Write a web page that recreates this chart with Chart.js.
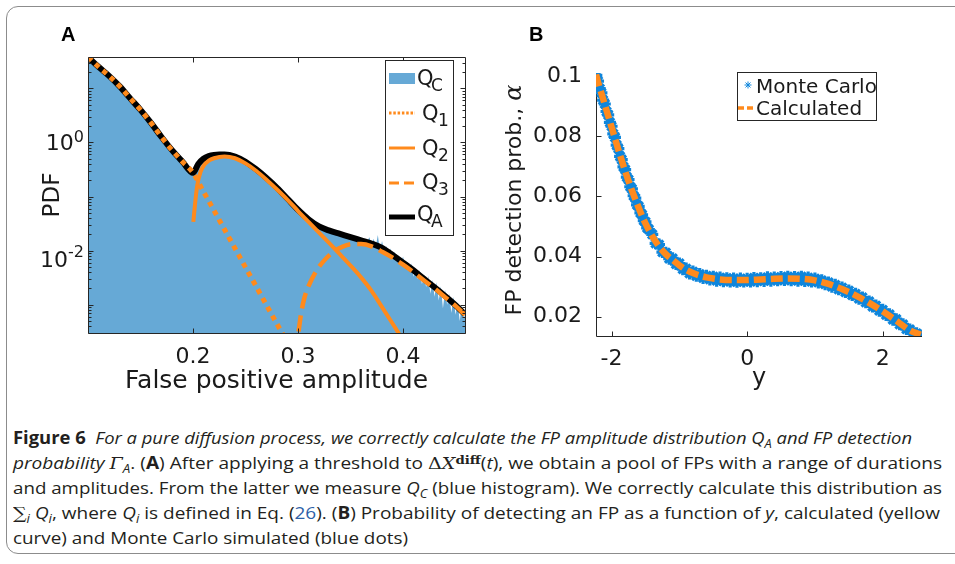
<!DOCTYPE html>
<html>
<head>
<meta charset="utf-8">
<script src="https://cdn.jsdelivr.net/npm/chart.js@4.4.1/dist/chart.umd.min.js"></script>
<style>
  html, body { margin: 0; padding: 0; background: #fff; }
  body { width: 955px; height: 564px; position: relative; overflow: hidden; }
  #frame { position: absolute; left: 6px; top: 6px; width: 1000px; height: 548px; border: 1.5px solid #8c8c8c; border-radius: 12px; box-sizing: border-box; }
  canvas { position: absolute; top: 0; }
  #chartA { left: 0; }
  #chartB { left: 480px; }
  .tag { position: absolute; top: 24px; font: bold 20px "Liberation Sans", Arial, sans-serif; line-height: 20px; color: #000; }
  .cap { position: absolute; left: 13px; white-space: nowrap; font: 17px "Open Sans", sans-serif; line-height: 17px; color: #231f20; transform-origin: 0 0; }
  .cap .sb { font-size: 70%; position: relative; top: 0.3em; }
  .cap .sp { font-size: 70%; position: relative; top: -0.45em; font-family: "DejaVu Serif", serif; font-weight: bold; }
  .cap .m { font-family: "DejaVu Serif", serif; }
  .cap .link { color: #2d5fa8; }
</style>
</head>
<body>
<div id="frame"></div>
<canvas id="chartA" width="480" height="400"></canvas>
<canvas id="chartB" width="475" height="400"></canvas>
<div class="tag" style="left:61px">A</div>
<div class="tag" style="left:529px">B</div>

<div class="cap" style="top:429px"><b>Figure 6</b>&nbsp; <i>For a pure diffusion process, we correctly calculate the FP amplitude distribution Q<span class="sb">A</span> and FP detection</i></div>
<div class="cap" style="top:454px"><i>probability <span class="m">Γ</span><span class="sb">A</span></i>. (<b>A</b>) After applying a threshold to <span class="m">Δ<i>X</i></span><span class="sp">diff</span>(<i>t</i>), we obtain a pool of FPs with a range of durations</div>
<div class="cap" style="top:479px">and amplitudes. From the latter we measure <i>Q<span class="sb">C</span></i> (blue histogram). We correctly calculate this distribution as</div>
<div class="cap" style="top:504px"><span class="m">∑</span><span class="sb"><i>i</i></span> <i>Q<span class="sb">i</span></i>, where <i>Q<span class="sb">i</span></i> is defined in Eq. (<span class="link">26</span>). (<b>B</b>) Probability of detecting an FP as a function of <i>y</i>, calculated (yellow</div>
<div class="cap" style="top:529px">curve) and Monte Carlo simulated (blue dots)</div>

<script>
// ---- panel A: amplitude distributions (log y) ----
const qaX = [0.100, 0.110, 0.120, 0.130, 0.140, 0.150, 0.160, 0.170, 0.180, 0.190, 0.200, 0.205, 0.210, 0.215, 0.220, 0.225, 0.230, 0.240, 0.250, 0.260, 0.270, 0.280, 0.290, 0.300, 0.310, 0.320, 0.330, 0.340, 0.350, 0.360, 0.370, 0.380, 0.390, 0.400, 0.410, 0.420, 0.430, 0.440, 0.450, 0.459];
const qaY = [38, 25, 17, 11, 6.6, 4.0, 2.3, 1.26, 0.72, 0.44, 0.275, 0.40, 0.50, 0.56, 0.59, 0.60, 0.60, 0.55, 0.44, 0.32, 0.22, 0.145, 0.091, 0.057, 0.038, 0.028, 0.0234, 0.0204, 0.0178, 0.0155, 0.0135, 0.0112, 0.0083, 0.0060, 0.0043, 0.0030, 0.0021, 0.00145, 0.00098, 0.00066];

const q1X = [0.100, 0.110, 0.120, 0.130, 0.140, 0.150, 0.160, 0.170, 0.180, 0.190, 0.200, 0.210, 0.220, 0.230, 0.240, 0.250, 0.260, 0.270, 0.280, 0.290];
const q1Y = [38, 25, 17, 11, 6.6, 4.0, 2.3, 1.26, 0.72, 0.44, 0.275, 0.123, 0.055, 0.0245, 0.011, 0.0049, 0.0022, 0.00098, 0.00044, 0.0002];

const q2X = [0.2003, 0.202, 0.204, 0.207, 0.210, 0.215, 0.220, 0.230, 0.240, 0.250, 0.260, 0.270, 0.280, 0.290, 0.300, 0.310, 0.320, 0.330, 0.340, 0.350, 0.360, 0.370, 0.380, 0.390, 0.400];
const q2Y = [0.034, 0.075, 0.16, 0.28, 0.37, 0.46, 0.51, 0.55, 0.51, 0.41, 0.30, 0.205, 0.135, 0.087, 0.054, 0.034, 0.0215, 0.0136, 0.0085, 0.0053, 0.0032, 0.0018, 0.0009, 0.00045, 0.00022];

const q3X = [0.3005, 0.303, 0.306, 0.310, 0.317, 0.325, 0.333, 0.342, 0.352, 0.360, 0.370, 0.381, 0.390, 0.400, 0.410, 0.420, 0.430, 0.440, 0.450, 0.459];
const q3Y = [0.00032, 0.0007, 0.00132, 0.0022, 0.0041, 0.0066, 0.0093, 0.0117, 0.0132, 0.0132, 0.0120, 0.0093, 0.0074, 0.0055, 0.0040, 0.0028, 0.0020, 0.00138, 0.00095, 0.00065];

// histogram Q_C: smooth body, then noisy tail bins
const qcX = [0.100, 0.110, 0.120, 0.130, 0.140, 0.150, 0.160, 0.170, 0.180, 0.190, 0.200, 0.205, 0.210, 0.215, 0.220, 0.225, 0.230, 0.240, 0.250, 0.260, 0.270, 0.280, 0.290, 0.300, 0.310, 0.320, 0.330, 0.340, 0.350,
  0.352, 0.354, 0.356, 0.358, 0.360, 0.362, 0.364, 0.366, 0.368, 0.370, 0.372, 0.374, 0.376, 0.378, 0.380, 0.382, 0.384, 0.386, 0.388, 0.390, 0.392, 0.394, 0.396, 0.398, 0.400,
  0.402, 0.404, 0.406, 0.408, 0.410, 0.412, 0.414, 0.416, 0.418, 0.420, 0.422, 0.424, 0.426, 0.428, 0.430, 0.432, 0.434, 0.436, 0.438, 0.440, 0.442, 0.444, 0.446, 0.448, 0.450,
  0.452, 0.454, 0.456, 0.458, 0.460];
const qcY = [38, 25, 17, 11, 6.6, 4.0, 2.3, 1.26, 0.72, 0.44, 0.27, 0.39, 0.49, 0.55, 0.58, 0.59, 0.59, 0.54, 0.43, 0.315, 0.215, 0.142, 0.089, 0.056, 0.037, 0.0275, 0.023, 0.020, 0.0175,
  0.0172, 0.0170, 0.0163, 0.0168, 0.0151, 0.0158, 0.0140, 0.0150, 0.0176, 0.0128, 0.0165, 0.0118, 0.0195, 0.0102, 0.0150, 0.0098, 0.0122, 0.0085, 0.0110, 0.0072, 0.0095, 0.0064, 0.0082, 0.0055, 0.0078,
  0.0049, 0.0062, 0.0042, 0.0058, 0.0033, 0.0047, 0.0030, 0.0044, 0.0024, 0.0036, 0.0021, 0.0034, 0.0016, 0.0029, 0.0014, 0.0026, 0.0012, 0.0022, 0.00085, 0.0019, 0.0010, 0.0016, 0.00070, 0.0014, 0.00065,
  0.0011, 0.00050, 0.0010, 0.00055, 0.0008];

const xTicksA = [0.2, 0.3, 0.4];
const yLabelA = [1, 0.01];
const yLabelExpA = ['0', '-2'];
const legendSubA = ['C', '1', '2', '3', 'A'];

// ---- panel B: FP detection probability ----
const calcX = [-2.23, -2.2, -2.1, -2.0, -1.9, -1.8, -1.7, -1.6, -1.5, -1.4, -1.3, -1.2, -1.1, -1.0, -0.9, -0.8, -0.7, -0.6, -0.5, -0.4, -0.2, 0, 0.2, 0.4, 0.6, 0.8, 1.0, 1.2, 1.4, 1.6, 1.8, 2.0, 2.2, 2.4, 2.56];
const calcY = [0.1005, 0.0980, 0.0905, 0.0830, 0.0755, 0.0684, 0.0620, 0.0562, 0.0510, 0.0468, 0.0434, 0.0408, 0.0389, 0.0371, 0.0356, 0.0345, 0.0337, 0.0331, 0.0327, 0.0324, 0.0322, 0.0322, 0.0324, 0.0326, 0.0327, 0.0326, 0.0321, 0.0309, 0.0292, 0.0271, 0.0246, 0.0218, 0.0187, 0.0155, 0.0140];

const mcX = [-2.225, -2.2, -2.175, -2.15, -2.125, -2.1, -2.075, -2.05, -2.025, -2, -1.975, -1.95, -1.925, -1.9, -1.875, -1.85, -1.825, -1.8, -1.775, -1.75, -1.725, -1.7, -1.675, -1.65, -1.625, -1.6, -1.575, -1.55, -1.525, -1.5, -1.475, -1.45,
  -1.4, -1.35, -1.3, -1.25, -1.2, -1.15, -1.1, -1.05, -1, -0.95, -0.9, -0.85, -0.8, -0.75, -0.7, -0.65, -0.6, -0.55, -0.5, -0.45, -0.4, -0.35, -0.3, -0.25, -0.2, -0.15, -0.1, -0.05,
  0, 0.05, 0.1, 0.15, 0.2, 0.25, 0.3, 0.35, 0.4, 0.45, 0.5, 0.55, 0.6, 0.65, 0.7, 0.75, 0.8, 0.85, 0.9, 0.95,
  1, 1.05, 1.1, 1.15, 1.2, 1.25, 1.3, 1.35, 1.4, 1.45, 1.5, 1.55, 1.6, 1.65, 1.7, 1.75, 1.8, 1.85, 1.9, 1.95,
  2, 2.05, 2.1, 2.15, 2.2, 2.25, 2.3, 2.35, 2.4, 2.45, 2.5, 2.55, 2.57];
const mcY = [0.1002, 0.0983, 0.0958, 0.0944, 0.0920, 0.0907, 0.0882, 0.0871, 0.0846, 0.0833, 0.0808, 0.0796, 0.0770, 0.0759, 0.0733, 0.0722, 0.0698, 0.0689, 0.0664, 0.0656, 0.0632, 0.0625, 0.0602, 0.0594, 0.0572, 0.0567, 0.0545, 0.0539, 0.0519, 0.0515, 0.0495, 0.0490,
  0.0474, 0.0444, 0.0440, 0.0415, 0.0413, 0.0393, 0.0394, 0.0375, 0.0377, 0.0358, 0.0360, 0.0344, 0.0350, 0.0336, 0.0342, 0.0329, 0.0336, 0.0324, 0.0333, 0.0320, 0.0330, 0.0318, 0.0328, 0.0317, 0.0327, 0.0316, 0.0327, 0.0317,
  0.0326, 0.0317, 0.0329, 0.0318, 0.0328, 0.0319, 0.0331, 0.0320, 0.0330, 0.0321, 0.0332, 0.0322, 0.0333, 0.0321, 0.0332, 0.0320, 0.0333, 0.0319, 0.0330, 0.0317,
  0.0327, 0.0314, 0.0321, 0.0308, 0.0314, 0.0300, 0.0306, 0.0291, 0.0297, 0.0282, 0.0287, 0.0272, 0.0276, 0.0260, 0.0264, 0.0248, 0.0251, 0.0234, 0.0237, 0.0220,
  0.0223, 0.0206, 0.0208, 0.0190, 0.0192, 0.0175, 0.0175, 0.0159, 0.0158, 0.0145, 0.0145, 0.0137, 0.0137];

const xTicksB = [-2, 0, 2];
const yTicksB = [0.02, 0.04, 0.06, 0.08, 0.1];

const orange = '#ff8a1c';
const histBlue = '#66a9d6';
const mcBlue = '#0f86dc';
const ink = '#1a1a1a';
const axisCol = '#262626';
const sans = '"DejaVu Sans", sans-serif';

Chart.defaults.font.family = sans;

function pts(xs, ys) {
  return xs.map((x, i) => ({ x: x, y: ys[i] }));
}

// frame, inward ticks, y labels with exponents, legend for panel A
const decorA = {
  id: 'decorA',
  afterDatasetsDraw(chart) {
    const { ctx, chartArea: a, scales: { x, y } } = chart;
    ctx.save();
    ctx.strokeStyle = axisCol;
    ctx.lineWidth = 1;
    ctx.beginPath();
    const L = Math.round(a.left) + 0.5, R = Math.round(a.right) + 0.5;
    const T = Math.round(a.top) + 0.5, B = Math.round(a.bottom) + 0.5;
    ctx.rect(L, T, R - L, B - T);
    xTicksA.forEach(v => {
      const px = Math.round(x.getPixelForValue(v)) + 0.5;
      ctx.moveTo(px, B); ctx.lineTo(px, B - 5);
      ctx.moveTo(px, T); ctx.lineTo(px, T + 5);
    });
    for (let e = -4; e <= 1; e++) {
      for (let k = 1; k <= 9; k++) {
        const v = k * Math.pow(10, e);
        if (v < y.min || v > y.max) continue;
        const py = Math.round(y.getPixelForValue(v)) + 0.5;
        const len = k === 1 ? 5 : 3;
        ctx.moveTo(L, py); ctx.lineTo(L + len, py);
        ctx.moveTo(R, py); ctx.lineTo(R - len, py);
      }
    }
    ctx.stroke();

    // tick labels 10^e
    const shift = [[8, 0], [16, 6]];
    ctx.fillStyle = ink;
    ctx.textBaseline = 'alphabetic';
    yLabelA.forEach((v, i) => {
      const py = y.getPixelForValue(v);
      ctx.font = '16px ' + sans;
      ctx.textAlign = 'right';
      const ew = ctx.measureText(yLabelExpA[i]).width;
      ctx.fillText(yLabelExpA[i], 84, py + shift[i][1]);
      ctx.font = '22px ' + sans;
      ctx.fillText('10', 84 - ew, py + shift[i][0]);
    });
    ctx.restore();
  },
  afterDraw(chart) {
    const { ctx } = chart;
    ctx.save();
    ctx.fillStyle = '#fff';
    ctx.fillRect(385, 60, 68, 175);
    ctx.strokeStyle = axisCol;
    ctx.lineWidth = 1;
    ctx.strokeRect(385.5, 60.5, 68, 175);

    ctx.fillStyle = histBlue;
    ctx.fillRect(389, 73, 26, 11);

    const sample = (yy, color, width, dash) => {
      ctx.beginPath();
      ctx.strokeStyle = color;
      ctx.lineWidth = width;
      ctx.setLineDash(dash);
      ctx.moveTo(389, yy); ctx.lineTo(415, yy);
      ctx.stroke();
    };
    sample(113, orange, 3, [2.5, 1.8]);
    sample(148, orange, 3, []);
    sample(183, orange, 3, [10, 5]);
    sample(217, '#000', 5, []);
    ctx.setLineDash([]);

    const qx = [417, 422, 422, 422, 417];
    const sx = [431, 438, 438, 438, 431];
    const qb = [85, 120, 155, 189, 221];
    ctx.fillStyle = ink;
    ctx.textAlign = 'left';
    legendSubA.forEach((s, i) => {
      ctx.font = '21px ' + sans;
      ctx.fillText('Q', qx[i], qb[i]);
      ctx.font = '17px ' + sans;
      ctx.fillText(s, sx[i], qb[i] + 6);
    });
    ctx.restore();
  }
};

new Chart(document.getElementById('chartA'), {
  type: 'line',
  data: {
    datasets: [
      { label: 'Q_C', data: pts(qcX, qcY), fill: 'start', backgroundColor: histBlue, borderWidth: 0, borderColor: histBlue, pointRadius: 0, tension: 0, order: 5, clip: 0 },
      { label: 'Q_A', data: pts(qaX, qaY), borderColor: '#000', borderWidth: 6, pointRadius: 0, cubicInterpolationMode: 'monotone', order: 4 },
      { label: 'Q_2', data: pts(q2X, q2Y), borderColor: orange, borderWidth: 4, pointRadius: 0, cubicInterpolationMode: 'monotone', order: 3, clip: 0 },
      { label: 'Q_3', data: pts(q3X, q3Y), borderColor: orange, borderWidth: 4.5, borderDash: [16, 7], pointRadius: 0, cubicInterpolationMode: 'monotone', order: 2, clip: 0 },
      { label: 'Q_1', data: pts(q1X, q1Y), borderColor: orange, borderWidth: 5, borderDash: [5, 5], pointRadius: 0, cubicInterpolationMode: 'monotone', order: 1, clip: 0 }
    ]
  },
  options: {
    responsive: false,
    animation: false,
    layout: { padding: { left: 0, top: 57, right: 15, bottom: 0 } },
    plugins: { legend: { display: false }, tooltip: { enabled: false } },
    scales: {
      x: {
        type: 'linear', min: 0.1, max: 0.459,
        afterBuildTicks: s => { s.ticks = xTicksA.map(v => ({ value: v })); },
        afterFit: s => { s.height = 67; },
        grid: { display: false }, border: { display: false },
        ticks: { padding: 3, color: ink, font: { size: 22 }, callback: v => String(v) },
        title: { display: true, text: 'False positive amplitude', color: ink, font: { size: 25 }, padding: { top: 0, bottom: 4 } }
      },
      y: {
        type: 'logarithmic', min: 3.24e-4, max: 38,
        afterFit: s => { s.width = 88; },
        grid: { display: false }, border: { display: false },
        ticks: { display: false },
        title: { display: true, text: 'PDF', color: ink, font: { size: 23 }, padding: { top: 39, bottom: 0 } }
      }
    }
  },
  plugins: [decorA]
});

// axes, y title and legend for panel B
const decorB = {
  id: 'decorB',
  beforeDatasetsDraw(chart) {
    const { ctx, chartArea: a, scales: { x, y } } = chart;
    ctx.save();
    ctx.strokeStyle = axisCol;
    ctx.lineWidth = 1;
    ctx.beginPath();
    const L = Math.round(a.left) + 0.5, B = Math.round(a.bottom) + 0.5;
    ctx.moveTo(L, a.top); ctx.lineTo(L, B); ctx.lineTo(a.right, B);
    xTicksB.forEach(v => {
      const px = Math.round(x.getPixelForValue(v)) + 0.5;
      ctx.moveTo(px, B); ctx.lineTo(px, B - 5);
    });
    yTicksB.forEach(v => {
      const py = Math.round(y.getPixelForValue(v)) + 0.5;
      ctx.moveTo(L, py); ctx.lineTo(L + 5, py);
    });
    ctx.stroke();
    ctx.restore();
  },
  afterDraw(chart) {
    const { ctx } = chart;
    ctx.save();
    // rotated y title with italic alpha
    ctx.translate(35, 200);
    ctx.rotate(-Math.PI / 2);
    ctx.fillStyle = ink;
    ctx.textBaseline = 'middle';
    ctx.textAlign = 'left';
    const t1 = 'FP detection prob., ';
    ctx.font = '22px ' + sans;
    const w1 = ctx.measureText(t1).width;
    ctx.font = 'italic 24px "DejaVu Serif", serif';
    const w2 = ctx.measureText('α').width;
    const s0 = -(w1 + w2) / 2;
    ctx.font = '22px ' + sans;
    ctx.fillText(t1, s0, 0);
    ctx.font = 'italic 24px "DejaVu Serif", serif';
    ctx.fillText('α', s0 + w1, 0);
    ctx.restore();

    ctx.save();
    ctx.fillStyle = '#fff';
    ctx.fillRect(257, 72, 139, 48);
    ctx.strokeStyle = axisCol;
    ctx.lineWidth = 1;
    ctx.strokeRect(257.5, 72.5, 139, 48);
    ctx.strokeStyle = mcBlue;
    Chart.helpers.drawPoint(ctx, { pointStyle: 'star', radius: 3.5, borderWidth: 1.5 }, 268, 85);
    ctx.beginPath();
    ctx.strokeStyle = orange;
    ctx.lineWidth = 3.5;
    ctx.setLineDash([6, 3]);
    ctx.moveTo(258, 108); ctx.lineTo(274, 108);
    ctx.stroke();
    ctx.setLineDash([]);
    ctx.fillStyle = ink;
    ctx.font = '20px ' + sans;
    ctx.textBaseline = 'alphabetic';
    ctx.fillText('Monte Carlo', 276, 93);
    ctx.fillText('Calculated', 276, 115);
    ctx.restore();
  }
};

new Chart(document.getElementById('chartB'), {
  type: 'line',
  data: {
    datasets: [
      { label: 'Calculated', data: pts(calcX, calcY), borderColor: orange, borderWidth: 6.5, borderDash: [12, 5], pointRadius: 0, cubicInterpolationMode: 'monotone', order: 0 },
      { label: 'Monte Carlo', data: pts(mcX, mcY), showLine: false, pointStyle: 'star', pointRadius: 6, pointBorderWidth: 3.2, pointBorderColor: mcBlue, pointBackgroundColor: mcBlue, order: 1 }
    ]
  },
  options: {
    responsive: false,
    animation: false,
    layout: { padding: { left: 0, top: 73, right: 33, bottom: 0 } },
    plugins: { legend: { display: false }, tooltip: { enabled: false } },
    scales: {
      x: {
        type: 'linear', min: -2.23, max: 2.58,
        afterBuildTicks: s => { s.ticks = xTicksB.map(v => ({ value: v })); },
        afterFit: s => { s.height = 64; },
        grid: { display: false }, border: { display: false },
        ticks: { padding: 2, color: ink, font: { size: 22 }, callback: v => String(v) },
        title: { display: true, text: 'y', color: ink, font: { size: 24 }, padding: { top: 0, bottom: 7 } }
      },
      y: {
        type: 'linear', min: 0.0136, max: 0.101,
        afterBuildTicks: s => { s.ticks = yTicksB.map(v => ({ value: v })); },
        afterFit: s => { s.width = 116; },
        grid: { display: false }, border: { display: false },
        ticks: { padding: 6, color: ink, font: { size: 22 }, callback: v => String(+v.toFixed(2)) }
      }
    }
  },
  plugins: [decorB]
});

// stretch each caption line to the width it has in the figure
const capRight = [912, 942, 942, 940, 408];
document.querySelectorAll('.cap').forEach((el, i) => {
  const w = el.getBoundingClientRect().width;
  el.style.transform = 'scaleX(' + ((capRight[i] - 13) / w).toFixed(4) + ')';
});
</script>
</body>
</html>
